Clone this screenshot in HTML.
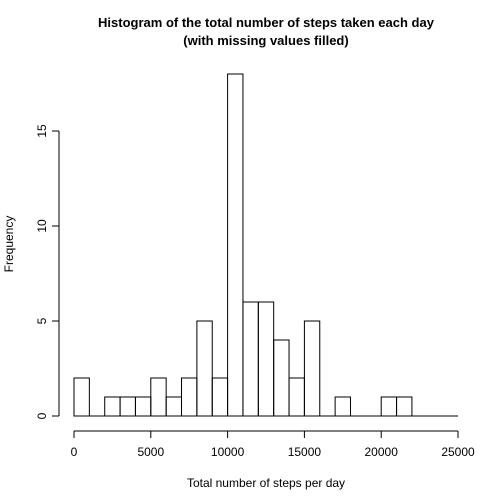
<!DOCTYPE html>
<html><head><meta charset="utf-8"><style>body{margin:0;background:#fff}svg{display:block;font-family:"Liberation Sans",Arial,sans-serif}</style></head>
<body>
<svg id="chart" width="504" height="504" viewBox="0 0 504 504">
<text x="266" y="27" text-anchor="middle" font-size="13" font-weight="bold">Histogram of the total number of steps taken each day</text>
<text x="266" y="45" text-anchor="middle" font-size="13" font-weight="bold">(with missing values filled)</text>
<text x="266" y="487" text-anchor="middle" font-size="12">Total number of steps per day</text>
<text transform="translate(13,244) rotate(-90)" text-anchor="middle" font-size="12">Frequency</text>
<g id="bars"></g><g id="axes"></g>
</svg>
<script>
const binStarts=[0,1000,2000,3000,4000,5000,6000,7000,8000,9000,10000,11000,12000,13000,14000,15000,16000,17000,18000,19000,20000,21000,22000,23000,24000];
const counts=[2,0,1,1,1,2,1,2,5,2,18,6,6,4,2,5,0,1,0,0,1,1,0,0,0];
const binWidth=1000;
const xTicks=[0,5000,10000,15000,20000,25000];
const yTicks=[0,5,10,15];
const NS="http://www.w3.org/2000/svg";
const x=v=>74+v*384/25000, y=v=>416-v*19;
function mk(t,a,p){const e=document.createElementNS(NS,t);for(const k in a)e.setAttribute(k,a[k]);p.appendChild(e);return e;}
const bars=document.getElementById('bars'),axes=document.getElementById('axes');
binStarts.forEach((s,i)=>{
 const x0=x(s),x1=x(s+binWidth),y0=y(0),y1=y(counts[i]);
 const r=mk('path',{d:`M${x0},${y0}L${x0},${y1}L${x1},${y1}L${x1},${y0}Z`,fill:'none',stroke:'#000','stroke-width':1},bars);
 
 
});
const xl=mk('line',{x1:x(xTicks[0]),x2:x(xTicks[xTicks.length-1]),y1:431,y2:431,stroke:'#000'},axes);


xTicks.forEach(t=>{
 mk('line',{x1:x(t),x2:x(t),y1:431,y2:438,stroke:'#000'},axes);
 const tx=mk('text',{x:x(t),y:456,'text-anchor':'middle','font-size':12},axes);tx.textContent=t;
 
 
});
const yl=mk('line',{x1:59,x2:59,y1:y(yTicks[0]),y2:y(yTicks[yTicks.length-1]),stroke:'#000'},axes);


yTicks.forEach(t=>{
 mk('line',{x1:52,x2:59,y1:y(t),y2:y(t),stroke:'#000'},axes);
 const tx=mk('text',{transform:`translate(46,${y(t)}) rotate(-90)`,'text-anchor':'middle','font-size':12},axes);tx.textContent=t;
 
 
});
</script>
</body></html>
